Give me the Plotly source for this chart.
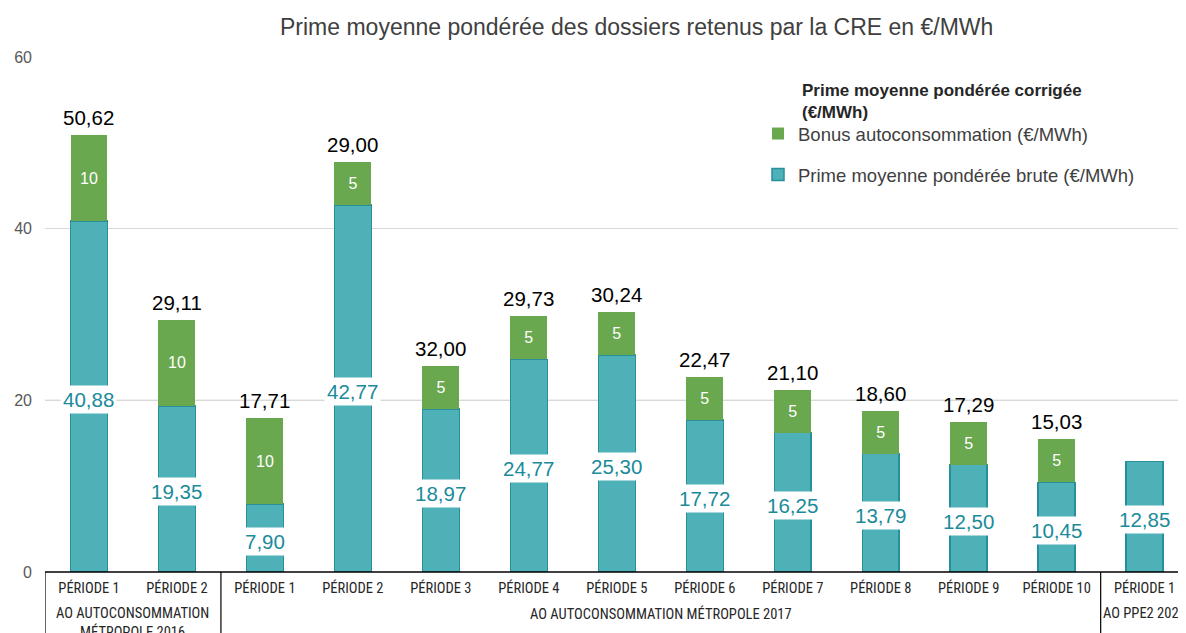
import plotly.graph_objects as go

tick_labels = ["PÉRIODE 1", "PÉRIODE 2", "PÉRIODE 1", "PÉRIODE 2", "PÉRIODE 3", "PÉRIODE 4",
               "PÉRIODE 5", "PÉRIODE 6", "PÉRIODE 7", "PÉRIODE 8", "PÉRIODE 9", "PÉRIODE 10",
               "PÉRIODE 1"]
prime_brute = [40.88, 19.35, 7.90, 42.77, 18.97, 24.77, 25.30, 17.72, 16.25, 13.79, 12.50, 10.45, 12.85]
bonus = [10, 10, 10, 5, 5, 5, 5, 5, 5, 5, 5, 5, None]
prime_corrigee = ["50,62", "29,11", "17,71", "29,00", "32,00", "29,73", "30,24", "22,47",
                  "21,10", "18,60", "17,29", "15,03", None]
groups = [("AO AUTOCONSOMMATION<br>MÉTROPOLE 2016", 0, 1),
          ("AO AUTOCONSOMMATION MÉTROPOLE 2017", 2, 11),
          ("AO PPE2 2020", 12, 12)]

x = list(range(len(tick_labels)))
TEAL = "#4db1b7"
TEAL_LINE = "#2a8f9c"
TEAL_TXT = "#1b8a9a"
GREEN = "#6aa84f"
FONT = "Liberation Sans, Arial, sans-serif"
NARROW = "Liberation Sans Narrow, Arial Narrow, Roboto Condensed, Liberation Sans, sans-serif"

# page body has an 8px margin: the figure is sized/offset to compensate
W, H = 1178, 625
ML, MT, MB = 37, 49, 61
PW, PH = W - ML, H - MT - MB

fig = go.Figure()
fig.add_trace(go.Bar(
    x=x, y=prime_brute, name="Prime moyenne pondérée brute (€/MWh)",
    marker=dict(color=TEAL, line=dict(color=TEAL_LINE, width=1.5)),
    width=0.42, legendgroup="g2", legendrank=2, hoverinfo="skip"))
fig.add_trace(go.Bar(
    x=x, y=bonus, name="Bonus autoconsommation (€/MWh)",
    marker=dict(color=GREEN, line=dict(color=GREEN, width=0)),
    width=0.42, legendgroup="g1", legendrank=1,
    text=[("" if b is None else str(b)) for b in bonus],
    textposition="inside", insidetextanchor="middle", textangle=0,
    textfont=dict(color="white", size=16, family=FONT), hoverinfo="skip"))

annotations = []
for i, (p, b, lab) in enumerate(zip(prime_brute, bonus, prime_corrigee)):
    annotations.append(dict(
        x=i, y=p / 2 - 0.35, xref="x", yref="y",
        text=f"{p:.2f}".replace(".", ","), showarrow=False,
        font=dict(color=TEAL_TXT, size=20.5, family=FONT),
        bgcolor="white", borderpad=2))
    if lab is not None:
        total = p + (b or 0)
        annotations.append(dict(
            x=i, y=total, xref="x", yref="y", yanchor="bottom", yshift=4,
            text=lab, showarrow=False,
            font=dict(color="black", size=20.5, family=FONT)))

for name, a, b in groups:
    annotations.append(dict(
        x=(a + b) / 2, y=-31 / PH, xref="x", yref="paper", yanchor="top",
        text=name, showarrow=False,
        font=dict(color="#262626", size=14.5, family=NARROW)))

annotations.append(dict(
    x=(628 - ML) / PW, y=1 + 30 / PH, xref="paper", yref="paper", yanchor="middle",
    xanchor="center", showarrow=False,
    text="Prime moyenne pondérée des dossiers retenus par la CRE en €/MWh",
    font=dict(color="#404040", size=23, family=FONT)))

annotations.append(dict(
    x=(792 - ML) / PW, y=1 - (71 - MT) / PH, xref="paper", yref="paper",
    xanchor="left", yanchor="top", align="left", showarrow=False,
    text="<b>Prime moyenne pondérée corrigée<br>(€/MWh)</b>",
    font=dict(color="#262626", size=17, family=FONT)))

shapes = [
    dict(type="line", xref="paper", yref="y", x0=0, x1=1, y0=20, y1=20,
         line=dict(color="#a6a6a6", width=1), layer="below"),
    dict(type="line", xref="paper", yref="paper", x0=0, x1=1, y0=0, y1=0,
         line=dict(color="black", width=1.5)),
]
for xv in [-0.5, 1.5, 11.5]:
    shapes.append(dict(type="line", xref="x", yref="paper", x0=xv, x1=xv, y0=0, y1=-0.2,
                       line=dict(color="black", width=1.2)))

fig.update_layout(
    width=W, height=H,
    margin=dict(l=ML, r=0, t=MT, b=MB, autoexpand=False),
    barmode="stack",
    plot_bgcolor="white", paper_bgcolor="white",
    font=dict(family=FONT, color="#404040"),
    xaxis=dict(range=[-0.5, 12.47], tickvals=x, ticktext=tick_labels,
               tickfont=dict(size=14.5, color="#262626", family=NARROW),
               showgrid=False, zeroline=False, showline=False, ticks="",
               ticklabelstandoff=5),
    yaxis=dict(range=[0, 60], tickvals=[0, 20, 40, 60], showgrid=True,
               gridcolor="#d9d9d9", gridwidth=1, zeroline=False,
               tickfont=dict(size=16, color="#595959"), ticks="", ticklabelstandoff=12),
    legend=dict(x=(750 - ML) / PW, y=1 - (107 - MT) / PH, xanchor="left", yanchor="top",
                traceorder="grouped", tracegroupgap=14,
                bgcolor="rgba(0,0,0,0)",
                font=dict(size=18.5, color="#404040")),
    annotations=annotations,
    shapes=shapes,
)

fig.write_html("out.html")
